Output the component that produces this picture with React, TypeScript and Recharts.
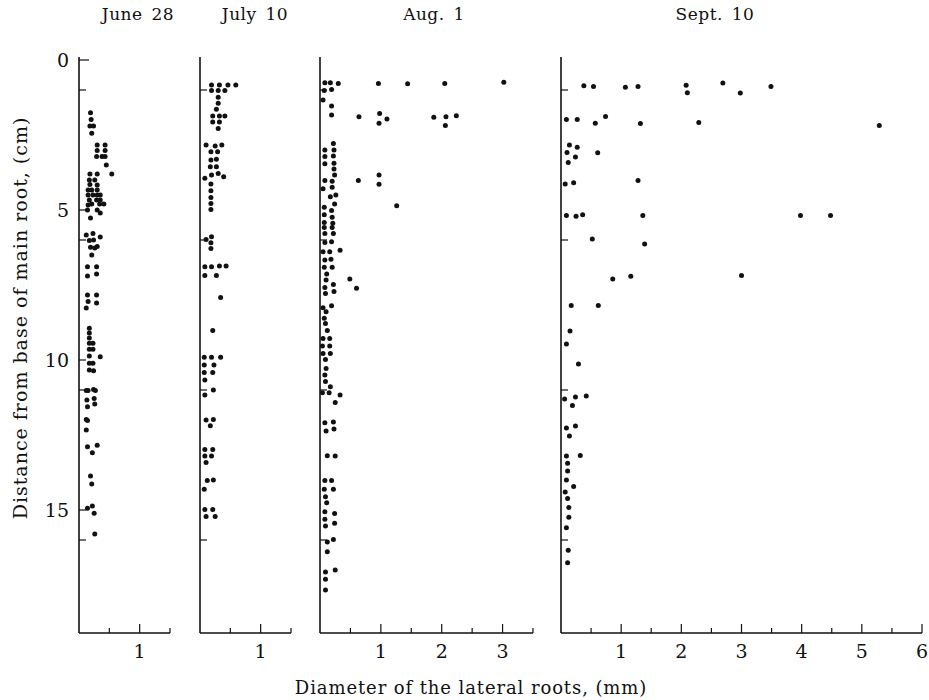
import { ScatterChart, Scatter, XAxis, YAxis } from "recharts";

// diameter (mm), distance from base of main root (cm)
const june28: number[][] = [
  [0.19, 1.76], [0.2, 1.98], [0.18, 2.2], [0.24, 2.2], [0.21, 2.44],
  [0.3, 2.83], [0.43, 2.83], [0.3, 3.02], [0.43, 3.02], [0.29, 3.22], [0.38, 3.22], [0.43, 3.22], [0.45, 3.5], [0.54, 3.8],
  [0.18, 3.8], [0.3, 3.8], [0.17, 4.0], [0.26, 4.0], [0.18, 4.15], [0.3, 4.17], [0.15, 4.33], [0.21, 4.33], [0.3, 4.33],
  [0.15, 4.5], [0.23, 4.5], [0.3, 4.5], [0.35, 4.5], [0.17, 4.67], [0.29, 4.67], [0.35, 4.67], [0.15, 4.83], [0.21, 4.8],
  [0.34, 4.8], [0.41, 4.8], [0.14, 5.0], [0.3, 5.0], [0.35, 5.1], [0.19, 5.27],
  [0.12, 5.83], [0.23, 5.78], [0.35, 5.9], [0.17, 6.02], [0.24, 6.0], [0.19, 6.24], [0.26, 6.27], [0.3, 6.22], [0.21, 6.5],
  [0.14, 6.89], [0.29, 6.89], [0.14, 7.2], [0.29, 7.13],
  [0.14, 7.83], [0.29, 7.83], [0.12, 8.27], [0.15, 8.05], [0.29, 8.1],
  [0.17, 8.94], [0.17, 9.1], [0.17, 9.27], [0.17, 9.44], [0.23, 9.44], [0.17, 9.64], [0.23, 9.64], [0.17, 9.87],
  [0.35, 9.89], [0.17, 10.11], [0.23, 10.11], [0.17, 10.33], [0.24, 10.36],
  [0.12, 11.02], [0.15, 11.02], [0.24, 10.98], [0.27, 11.02], [0.13, 11.33], [0.25, 11.28], [0.14, 11.56], [0.26, 11.47],
  [0.12, 11.98], [0.14, 12.02], [0.12, 12.33],
  [0.14, 12.89], [0.3, 12.84], [0.22, 13.09],
  [0.19, 13.87], [0.21, 14.13],
  [0.14, 14.94], [0.22, 14.87], [0.25, 15.11],
  [0.26, 15.8],
];

const july10: number[][] = [
  [0.19, 0.83], [0.32, 0.83], [0.46, 0.83], [0.59, 0.83],
  [0.19, 1.02], [0.3, 1.02], [0.41, 1.02],
  [0.3, 1.24], [0.3, 1.44], [0.27, 1.64],
  [0.21, 1.87], [0.32, 1.87], [0.41, 1.87],
  [0.21, 2.07], [0.32, 2.07], [0.3, 2.28],
  [0.1, 2.83], [0.25, 2.87], [0.36, 2.83],
  [0.18, 3.06], [0.29, 3.06],
  [0.18, 3.33], [0.27, 3.31],
  [0.17, 3.56], [0.27, 3.56],
  [0.19, 3.83], [0.3, 3.78], [0.39, 3.89], [0.08, 3.94],
  [0.18, 4.13], [0.18, 4.36], [0.18, 4.58], [0.18, 4.78], [0.18, 4.98],
  [0.19, 5.89], [0.1, 5.98], [0.18, 6.09], [0.18, 6.28],
  [0.08, 6.89], [0.19, 6.89], [0.32, 6.87], [0.43, 6.87],
  [0.08, 7.18], [0.27, 7.18],
  [0.34, 7.92],
  [0.21, 9.02],
  [0.07, 9.91], [0.19, 9.91], [0.34, 9.91],
  [0.07, 10.17], [0.23, 10.17],
  [0.07, 10.42], [0.21, 10.42],
  [0.08, 10.67],
  [0.22, 11.0], [0.08, 11.17],
  [0.1, 12.0], [0.22, 11.98], [0.17, 12.19],
  [0.08, 12.98], [0.21, 12.98],
  [0.08, 13.2], [0.19, 13.2],
  [0.1, 13.42],
  [0.12, 14.02], [0.22, 14.0], [0.07, 14.31],
  [0.08, 14.98], [0.21, 14.98],
  [0.1, 15.22], [0.25, 15.22],
];

const aug1: number[][] = [
  [0.08, 0.76], [0.17, 0.76], [0.3, 0.78], [0.96, 0.78], [1.44, 0.79], [2.05, 0.78], [3.02, 0.74],
  [0.07, 1.02], [0.19, 0.98],
  [0.05, 1.33], [0.19, 1.53], [0.19, 1.83],
  [0.64, 1.89], [0.98, 1.78], [1.1, 1.97], [0.97, 2.11], [1.87, 1.91], [2.07, 1.89], [2.24, 1.86], [2.06, 2.18],
  [0.22, 2.78],
  [0.08, 3.0], [0.23, 3.0],
  [0.08, 3.22], [0.22, 3.2],
  [0.08, 3.46], [0.23, 3.44],
  [0.23, 3.63],
  [0.24, 3.83], [0.97, 3.83],
  [0.08, 4.02], [0.2, 4.04], [0.63, 4.02],
  [0.97, 4.14],
  [0.05, 4.29], [0.2, 4.24],
  [0.17, 4.56], [0.26, 4.5],
  [0.24, 4.8], [1.26, 4.86],
  [0.07, 4.91], [0.19, 5.02],
  [0.07, 5.16], [0.2, 5.24],
  [0.07, 5.42], [0.21, 5.44],
  [0.07, 5.58], [0.2, 5.58],
  [0.08, 5.78], [0.22, 5.78],
  [0.08, 6.08], [0.19, 6.06],
  [0.05, 6.39], [0.16, 6.39], [0.33, 6.34],
  [0.08, 6.67], [0.18, 6.64],
  [0.07, 6.91], [0.2, 6.91],
  [0.11, 7.13],
  [0.1, 7.33], [0.49, 7.3],
  [0.22, 7.48], [0.08, 7.58],
  [0.6, 7.61],
  [0.23, 7.72], [0.09, 7.78],
  [0.19, 8.19], [0.05, 8.26],
  [0.1, 8.39], [0.07, 8.61], [0.09, 8.78], [0.12, 9.02],
  [0.05, 9.28], [0.16, 9.28],
  [0.04, 9.53], [0.16, 9.53],
  [0.05, 9.78], [0.17, 9.78],
  [0.09, 9.98], [0.1, 10.28], [0.08, 10.5], [0.09, 10.72], [0.17, 10.89],
  [0.04, 11.09], [0.15, 11.09], [0.33, 11.17], [0.25, 11.42],
  [0.08, 12.09], [0.22, 12.07],
  [0.1, 12.37], [0.23, 12.3],
  [0.12, 13.19], [0.25, 13.2],
  [0.08, 14.02], [0.19, 14.02],
  [0.07, 14.31], [0.22, 14.31],
  [0.09, 14.56], [0.11, 14.76],
  [0.08, 15.06], [0.24, 15.12],
  [0.08, 15.31], [0.24, 15.44], [0.09, 15.53],
  [0.22, 15.98], [0.12, 16.07], [0.12, 16.39],
  [0.25, 17.0], [0.09, 17.07], [0.09, 17.31], [0.09, 17.67],
];

const sept10: number[][] = [
  [0.38, 0.86], [0.54, 0.88], [1.07, 0.91], [1.28, 0.88], [2.08, 0.84], [2.1, 1.09], [2.69, 0.77], [2.98, 1.1], [3.49, 0.88],
  [0.09, 1.98], [0.27, 1.98], [0.74, 1.88], [0.57, 2.11], [1.32, 2.12], [2.29, 2.08], [5.29, 2.18],
  [0.14, 2.83], [0.27, 2.91], [0.1, 3.08], [0.61, 3.09], [0.24, 3.23], [0.12, 3.42],
  [0.07, 4.13], [0.21, 4.09], [1.28, 4.02],
  [0.09, 5.18], [0.25, 5.21], [0.36, 5.16], [1.36, 5.18], [3.98, 5.18], [4.48, 5.18],
  [0.52, 5.97], [1.39, 6.13],
  [0.86, 7.3], [1.16, 7.21], [3.0, 7.18],
  [0.17, 8.18], [0.62, 8.18],
  [0.15, 9.03], [0.09, 9.47], [0.29, 10.13],
  [0.06, 11.3], [0.24, 11.23], [0.42, 11.2], [0.19, 11.52],
  [0.09, 12.27], [0.24, 12.2], [0.14, 12.53],
  [0.09, 13.2], [0.32, 13.18], [0.11, 13.44], [0.11, 13.7],
  [0.09, 14.0], [0.21, 14.22], [0.07, 14.4], [0.11, 14.62], [0.13, 14.92], [0.13, 15.24], [0.09, 15.59],
  [0.12, 16.34], [0.11, 16.76],
];

const panelTitles = ["June 28", "July 10", "Aug. 1", "Sept. 10"];
const panelData = [june28, july10, aug1, sept10];
const diameterMax = [1.5, 1.5, 3.5, 6];
const depthLabels = [0, 5, 10, 15];
const depthTicksFirst = [0, 1, 5, 6, 10, 11, 15, 16];
const depthTicksOther = [1, 6, 11, 16];

const FONT = "'DejaVu Serif', serif";

// where each panel's x = 0 sits and how wide it is on the page
const panelLeft = [79, 200, 320, 561];
const panelWidth = [91, 91, 213, 361];
const titleCenter = [138, 255, 434, 715];

function DepthTick(props: any) {
  const { x, y, payload, showLabel } = props;
  const v = payload.value;
  return (
    <g>
      <line x1={x} y1={y} x2={x + (v === 0 ? 10 : 7)} y2={y} stroke="#111" strokeWidth={1.2} />
      {showLabel && depthLabels.includes(v) && (
        <text x={x - 10} y={y + 7} textAnchor="end" fontFamily={FONT} fontSize={19} fill="#111">
          {v}
        </text>
      )}
    </g>
  );
}

function DiameterTick(props: any) {
  const { x, y, payload } = props;
  const v = payload.value;
  const whole = Number.isInteger(v);
  return (
    <g>
      <line x1={x} y1={y} x2={x} y2={y - (whole ? 9 : 5)} stroke="#111" strokeWidth={1.2} />
      {whole && (
        <text x={x} y={y + 25} textAnchor="middle" fontFamily={FONT} fontSize={19} fill="#111">
          {v}
        </text>
      )}
    </g>
  );
}

const dot = (p: any) => <circle cx={p.cx} cy={p.cy} r={2.5} fill="#111" />;

export default function App() {
  return (
    <div style={{ position: "absolute", left: 0, top: 0, width: 929, height: 700, background: "#fff" }}>
      {panelData.map((rows, i) => {
        const data = rows.map(([x, y]) => ({ x, y }));
        const max = diameterMax[i];
        const xTicks: number[] = [];
        for (let t = 0.5; t <= max + 0.001; t += 0.5) xTicks.push(t);
        return (
          <div key={i} style={{ position: "absolute", left: panelLeft[i] - 40, top: 0 }}>
            <ScatterChart
              width={40 + panelWidth[i] + 12}
              height={700}
              margin={{ top: 57, right: 12, bottom: 37, left: 0 }}
            >
              <XAxis
                type="number"
                dataKey="x"
                domain={[0, max]}
                ticks={xTicks}
                interval={0}
                allowDataOverflow
                height={30}
                tickSize={0}
                tickMargin={0}
                tickLine={false}
                axisLine={{ stroke: "#111", strokeWidth: 1.6 }}
                tick={<DiameterTick />}
              />
              <YAxis
                type="number"
                dataKey="y"
                domain={[-0.1, 19.1]}
                reversed
                allowDataOverflow
                ticks={i === 0 ? depthTicksFirst : depthTicksOther}
                interval={0}
                width={40}
                tickSize={0}
                tickMargin={0}
                tickLine={false}
                axisLine={{ stroke: "#111", strokeWidth: 1.6 }}
                tick={<DepthTick showLabel={i === 0} />}
              />
              <Scatter data={data} shape={dot} isAnimationActive={false} />
            </ScatterChart>
          </div>
        );
      })}
      <svg
        width={929}
        height={700}
        style={{ position: "absolute", left: 0, top: 0, pointerEvents: "none" }}
      >
        {panelTitles.map((t, i) => (
          <text
            key={t}
            x={titleCenter[i]}
            y={20}
            textAnchor="middle"
            fontFamily={FONT}
            fontSize={17}
            letterSpacing={0.5}
            wordSpacing={3}
            fill="#111"
          >
            {t}
          </text>
        ))}
        <text
          x={471}
          y={694}
          textAnchor="middle"
          fontFamily={FONT}
          fontSize={18}
          letterSpacing={0.9}
          fill="#111"
        >
          Diameter of the lateral roots, (mm)
        </text>
        <text
          transform="translate(27 318) rotate(-90)"
          textAnchor="middle"
          fontFamily={FONT}
          fontSize={19}
          letterSpacing={1}
          fill="#111"
        >
          Distance from base of main root, (cm)
        </text>
      </svg>
    </div>
  );
}
